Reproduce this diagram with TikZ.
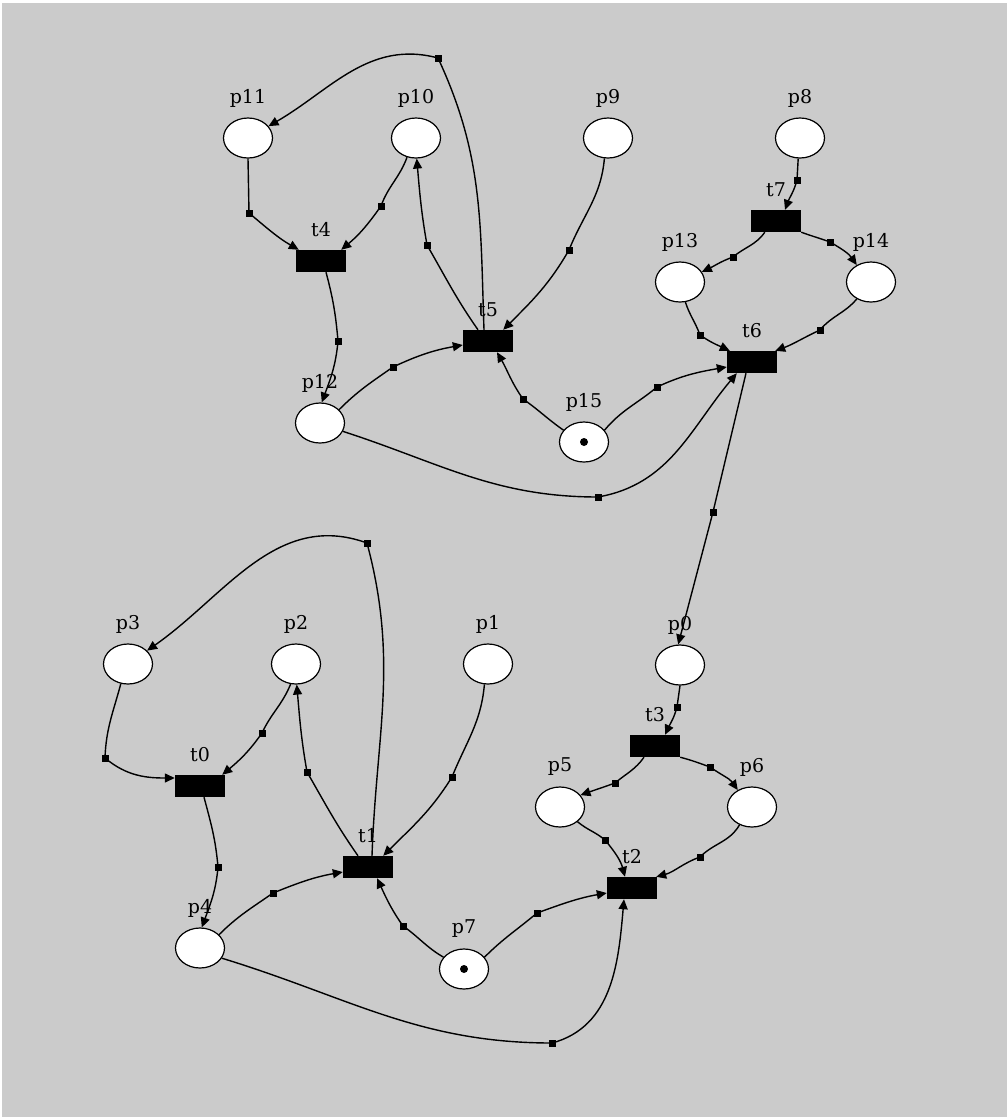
\documentclass[tikz,border=0pt]{standalone}
\usepackage{fontspec}
\setmainfont{DejaVu Serif}
\usetikzlibrary{shapes.geometric,arrows.meta}
\definecolor{bggray}{RGB}{203,203,203}

\begin{document}
\begin{tikzpicture}[x=1pt,y=1pt,
  place/.style={ellipse,draw=black,line width=1.2pt,fill=white,
    minimum width=49pt,minimum height=40pt,inner sep=0pt},
  trans/.style={rectangle,fill=black,minimum width=50pt,minimum height=22pt,inner sep=0pt},
  lbl/.style={font=\fontsize{19}{19}\selectfont,inner sep=0pt},
  token/.style={circle,fill=black,minimum size=8pt,inner sep=0pt},
  arc/.style={line width=1.4pt,-{Triangle[length=10pt,width=9pt]}}]

% canvas
\fill[white] (0,0) rectangle (1007,-1117);
\fill[bggray] (2,-3) rectangle (1007,-1117);
\useasboundingbox (0,0) rectangle (1007,-1117);

% places
\node[place] (p11) at (248,-138) {};
\node[place] (p10) at (416,-138) {};
\node[place] (p9)  at (608,-138) {};
\node[place] (p8)  at (800,-138) {};
\node[place] (p13) at (680,-282) {};
\node[place] (p14) at (871,-282) {};
\node[place] (p12) at (320,-423) {};
\node[place] (p15) at (584,-442) {};
\node[place] (p3)  at (128,-664) {};
\node[place] (p2)  at (296,-664) {};
\node[place] (p1)  at (488,-664) {};
\node[place] (p0)  at (680,-665) {};
\node[place] (p5)  at (560,-807) {};
\node[place] (p6)  at (752,-807) {};
\node[place] (p4)  at (200,-948) {};
\node[place] (p7)  at (464,-969) {};

% tokens
\node[token] (tok15) at (p15.center) {};
\node[token] (tok7)  at (p7.center) {};

% transitions
\node[trans] (t7) at (776,-221) {};
\node[trans] (t4) at (321,-261) {};
\node[trans] (t5) at (488,-341) {};
\node[trans] (t6) at (752,-362) {};
\node[trans] (t0) at (200,-786) {};
\node[trans] (t3) at (655,-746) {};
\node[trans] (t1) at (368,-867) {};
\node[trans] (t2) at (632,-888) {};

% labels
\foreach \n in {p11,p10,p9,p8,p13,p14,p12,p15,p3,p2,p1,p0,p5,p6,p4,p7}
  \node[lbl] (l\n) at ([yshift=40pt]\n.center) {\n};
\foreach \n in {t0,t1,t2,t3,t4,t5,t6,t7}
  \node[lbl] (l\n) at ([yshift=31pt]\n.center) {\n};

% arc handles
\coordinate (h1) at (249,-213);
\coordinate (h2) at (381,-206);
\coordinate (h3) at (427,-245);
\coordinate (h4) at (438,-58);
\coordinate (h5) at (569,-250);
\coordinate (h6) at (393,-367);
\coordinate (h7) at (523,-399);
\coordinate (h8) at (338,-341);
\coordinate (h9) at (598,-497);
\coordinate (h10) at (657,-387);
\coordinate (h11) at (700,-335);
\coordinate (h12) at (820,-330);
\coordinate (h13) at (733,-257);
\coordinate (h14) at (830,-242);
\coordinate (h15) at (797,-180);
\coordinate (h16) at (713,-512);
\coordinate (h17) at (677,-707);
\coordinate (h18) at (615,-783);
\coordinate (h19) at (710,-767);
\coordinate (h20) at (605,-840);
\coordinate (h21) at (700,-857);
\coordinate (h22) at (537,-913);
\coordinate (h23) at (552,-1043);
\coordinate (h24) at (403,-926);
\coordinate (h25) at (273,-893);
\coordinate (h26) at (218,-867);
\coordinate (h27) at (105,-758);
\coordinate (h28) at (262,-733);
\coordinate (h29) at (307,-772);
\coordinate (h30) at (367,-543);
\coordinate (h31) at (452,-777);

% upper net
\draw[arc] (p11.-90) -- (h1) to[out=-40,in=150] ([xshift=3pt]t4.north west);
\draw[arc] (p10.-115) to[out=-110,in=70] (h2) to[out=-125,in=40] ([xshift=-5pt]t4.north east);
\draw[arc] ([xshift=-10pt]t5.north) to[out=125,in=-60] (h3) to[out=100,in=-85] (p10.-88);
\draw[arc] ([xshift=-4pt]t5.north) to[out=92,in=-65] (h4) to[out=165,in=30] (p11.30);
\draw[arc] (p9.-100) to[out=-95,in=68] (h5) to[out=-120,in=45] ([xshift=-10pt]t5.north east);
\draw[arc] (p12.35) to[out=45,in=-145] (h6) to[out=25,in=190] ([yshift=-4pt]t5.west);
\draw[arc] (p15.150) to[out=145,in=-35] (h7) to[out=125,in=-60] ([xshift=9pt]t5.south);
\draw[arc] ([xshift=5pt]t4.south) to[out=-75,in=95] (h8) to[out=-95,in=70] (p12.85);
\draw[arc] (p12.-20) to[out=-18,in=180] (h9) to[out=10,in=-130] ([xshift=10pt]t6.south west);
\draw[arc] (p15.30) to[out=50,in=-140] (h10) to[out=25,in=190] ([yshift=-5pt]t6.west);
\draw[arc] (p13.-75) to[out=-72,in=110] (h11) to[out=-35,in=155] ([xshift=3pt]t6.north west);
\draw[arc] (p14.-130) to[out=-130,in=50] (h12) to[out=-155,in=20] ([xshift=-2pt]t6.north east);
\draw[arc] ([xshift=14pt]t7.south west) to[out=-125,in=40] (h13) to[out=-160,in=25] (p13.25);
\draw[arc] (t7.south east) to[out=-20,in=160] (h14) to[out=-30,in=125] (p14.130);
\draw[arc] (p8.-95) -- (h15) to[out=-105,in=70] ([xshift=9pt]t7.north);
\draw[arc] ([xshift=-6pt]t6.south) -- (h16) -- (p0.95);

% lower net
\draw[arc] (p0.-90) -- (h17) to[out=-105,in=65] ([xshift=10pt]t3.north);
\draw[arc] ([xshift=-11pt]t3.south) to[out=-125,in=40] (h18) to[out=-160,in=20] (p5.30);
\draw[arc] (t3.south east) to[out=-15,in=160] (h19) to[out=-35,in=125] (p6.130);
\draw[arc] (p5.-40) to[out=-40,in=140] (h20) to[out=-50,in=105] ([xshift=-7pt]t2.north);
\draw[arc] (p6.-125) to[out=-120,in=45] (h21) to[out=-160,in=15] ([xshift=-1pt]t2.north east);
\draw[arc] (p7.30) to[out=45,in=-140] (h22) to[out=20,in=190] ([yshift=-5pt]t2.west);
\draw[arc] (p4.-25) to[out=-17,in=180] (h23) to[out=15,in=-95] ([xshift=-8pt]t2.south);
\draw[arc] (p7.150) to[out=150,in=-35] (h24) to[out=125,in=-65] ([xshift=9pt]t1.south);
\draw[arc] (p4.35) to[out=45,in=-145] (h25) to[out=22,in=190] ([yshift=-5pt]t1.west);
\draw[arc] ([xshift=4pt]t0.south) to[out=-75,in=95] (h26) to[out=-95,in=70] (p4.85);
\draw[arc] (p3.-110) to[out=-105,in=88] (h27) to[out=-40,in=180] ([yshift=8pt]t0.west);
\draw[arc] (p2.-105) to[out=-112,in=65] (h28) to[out=-125,in=40] ([xshift=-3pt]t0.north east);
\draw[arc] ([xshift=-10pt]t1.north) to[out=125,in=-60] (h29) to[out=100,in=-85] (p2.-88);
\draw[arc] ([xshift=4pt]t1.north) to[out=88,in=-75] (h30) to[out=160,in=35] (p3.35);
\draw[arc] (p1.-100) to[out=-95,in=68] (h31) to[out=-122,in=45] ([xshift=-10pt]t1.north east);

% handle squares on the arcs
\foreach \h in {h1,h2,h3,h4,h5,h6,h7,h8,h9,h10,h11,h12,h13,h14,h15,h16,
                h17,h18,h19,h20,h21,h22,h23,h24,h25,h26,h27,h28,h29,h30,h31}
  \fill (\h) ++(-3.5,-3.5) rectangle ++(7,7);
\end{tikzpicture}
\end{document}
